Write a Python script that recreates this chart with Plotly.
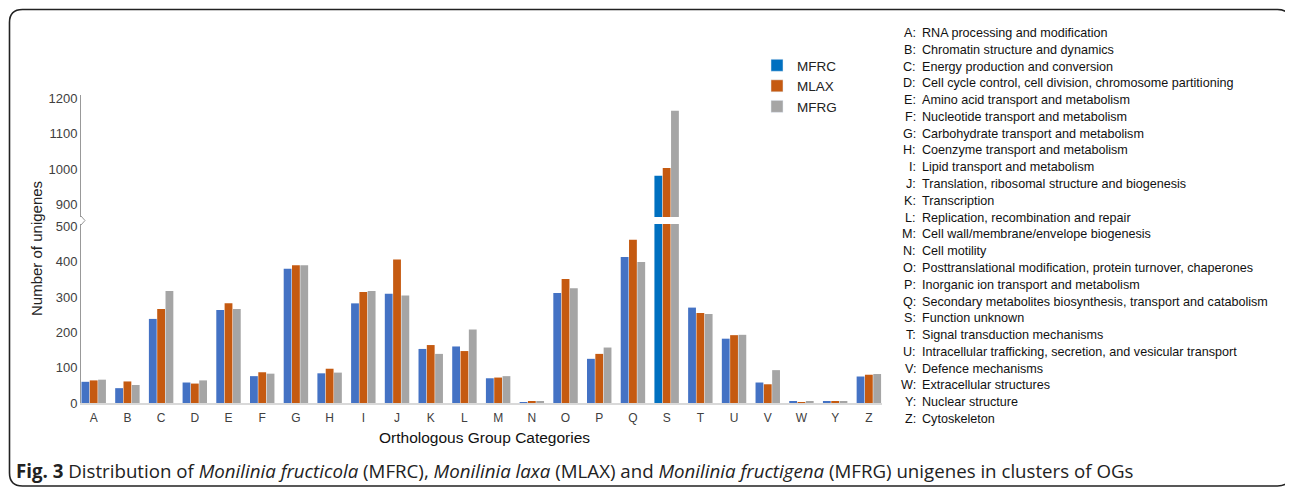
import plotly.graph_objects as go

# ---------------- data ----------------
categories = ["A", "B", "C", "D", "E", "F", "G", "H", "I", "J", "K", "L",
              "M", "N", "O", "P", "Q", "S", "T", "U", "V", "W", "Y", "Z"]
mfrc = [60, 42, 238, 58, 263, 76, 380, 84, 282, 309, 153, 160,
        70, 1, 311, 125, 413, 982, 270, 182, 58, 3, 3, 75]
mlax = [64, 61, 266, 55, 282, 87, 390, 97, 314, 406, 164, 147,
        72, 4, 351, 139, 462, 1004, 255, 192, 53, 1, 3, 80]
mfrg = [66, 51, 317, 64, 266, 83, 390, 86, 317, 304, 139, 208,
        76, 4, 325, 157, 399, 1165, 252, 193, 93, 3, 3, 82]
series_names = ["MFRC", "MLAX", "MFRG"]
descriptions = [
    "RNA processing and modification",
    "Chromatin structure and dynamics",
    "Energy production and conversion",
    "Cell cycle control, cell division, chromosome partitioning",
    "Amino acid transport and metabolism",
    "Nucleotide transport and metabolism",
    "Carbohydrate transport and metabolism",
    "Coenzyme transport and metabolism",
    "Lipid transport and metabolism",
    "Translation, ribosomal structure and biogenesis",
    "Transcription",
    "Replication, recombination and repair",
    "Cell wall/membrane/envelope biogenesis",
    "Cell motility",
    "Posttranslational modification, protein turnover, chaperones",
    "Inorganic ion transport and metabolism",
    "Secondary metabolites biosynthesis, transport and catabolism",
    "Function unknown",
    "Signal transduction mechanisms",
    "Intracellular trafficking, secretion, and vesicular transport",
    "Defence mechanisms",
    "Extracellular structures",
    "Nuclear structure",
    "Cytoskeleton",
]
lower_ticks = [0, 100, 200, 300, 400, 500]
upper_ticks = [900, 1000, 1100, 1200]

# ---------------- styling ----------------
# the page body adds an 8px offset; figure is sized to fit the window
OFF = 8
W, H = 1293 - OFF, 492 - OFF
PL, PR, PT, PB = 81, 882, 95, 403          # plot box in window pixels
ML, MT = PL - OFF, PT - OFF
MR, MB = (W + OFF) - PR, (H + OFF) - PB
PW, PH = PR - PL, PB - PT
BLUE, BLUE_S, ORANGE, GRAY = "#4472C4", "#0070C0", "#C55A11", "#A5A5A5"
FONT = "Liberation Sans, Arial, sans-serif"


def px(x):
    return (x - PL) / PW


def py(y):
    return (PB - y) / PH


blue_colors = [BLUE_S if c == "S" else BLUE for c in categories]
series = [(mfrc, blue_colors), (mlax, ORANGE), (mfrg, GRAY)]

fig = go.Figure()
for axis_pair in (("x", "y"), ("x2", "y2")):
    for k, (name, (vals, col)) in enumerate(zip(series_names, series)):
        fig.add_trace(go.Bar(
            x=categories, y=vals, name=name, marker_color=col,
            marker_line_width=0, showlegend=False, offsetgroup=str(k),
            xaxis=axis_pair[0], yaxis=axis_pair[1], hoverinfo="x+y+name",
        ))

# legend-only traces (share offset groups so bar widths are unaffected)
for k, (name, col) in enumerate(zip(series_names, [BLUE_S, ORANGE, GRAY])):
    fig.add_trace(go.Bar(x=[None], y=[None], name=name, marker_color=col,
                         offsetgroup=str(k), showlegend=True,
                         xaxis="x", yaxis="y"))

xrange = [-0.377, 23.39]
lower_dom = [0, py(224)]
upper_dom = [py(217), 1]

fig.update_layout(
    width=W, height=H,
    margin=dict(l=ML, r=MR, t=MT, b=MB, autoexpand=False),
    paper_bgcolor="white", plot_bgcolor="white",
    barmode="group", bargap=0.26, bargroupgap=0.06,
    font=dict(family=FONT, color="#404040"),
    xaxis=dict(range=xrange, domain=[0, 1], anchor="y", showgrid=False,
               showline=True, linecolor="#d9d9d9", linewidth=1.5,
               ticks="", tickfont=dict(size=12, color="#404040"),
               ticklabelstandoff=3, zeroline=False, automargin=False),
    xaxis2=dict(range=xrange, domain=[0, 1], anchor="y2", matches="x",
                showgrid=False, showline=False, showticklabels=False,
                ticks="", zeroline=False),
    yaxis=dict(domain=lower_dom, range=[0, 506.6], tickvals=lower_ticks,
               showgrid=False, zeroline=False, showline=True,
               linecolor="#999999", linewidth=1, ticks="", automargin=False,
               tickfont=dict(size=13, color="#404040")),
    yaxis2=dict(domain=upper_dom, range=[866, 1209.3], tickvals=upper_ticks,
                showgrid=False, zeroline=False, showline=True,
                linecolor="#999999", linewidth=1, ticks="", automargin=False,
                tickfont=dict(size=13, color="#404040")),
    legend=dict(x=px(757), y=py(50), xanchor="left", yanchor="top",
                font=dict(size=13.5, color="#222"), bgcolor="rgba(0,0,0,0)",
                itemwidth=30, tracegroupgap=0),
)

annotations = []
# axis titles
annotations.append(dict(text="Number of unigenes", x=px(36), y=py(249),
                        xref="paper", yref="paper", showarrow=False,
                        xanchor="center", yanchor="middle",
                        textangle=-90, font=dict(size=15, color="#222")))
annotations.append(dict(text="Orthologous Group Categories", x=px(484), y=py(438),
                        xref="paper", yref="paper", showarrow=False,
                        xanchor="center", yanchor="middle",
                        font=dict(size=15.5, color="#111")))
# category description list
y0, dy = 33, (419 - 33) / 23
for i, (c, d) in enumerate(zip(categories, descriptions)):
    yy = py(y0 + i * dy)
    annotations.append(dict(text=c + ":", x=px(917.5), y=yy, xref="paper", yref="paper",
                            xanchor="right", yanchor="middle", showarrow=False,
                            font=dict(size=12.6, color="#111")))
    annotations.append(dict(text=d, x=px(920), y=yy, xref="paper", yref="paper",
                            xanchor="left", yanchor="middle", showarrow=False,
                            font=dict(size=12.6, color="#111")))
# caption
annotations.append(dict(
    text="<b>Fig. 3</b> Distribution of <i>Monilinia fructicola</i> (MFRC), "
         "<i>Monilinia laxa</i> (MLAX) and <i>Monilinia fructigena</i> (MFRG) "
         "unigenes in clusters of OGs",
    x=px(14), y=py(470), xref="paper", yref="paper", xanchor="left",
    yanchor="middle", showarrow=False,
    font=dict(family="Open Sans, sans-serif", size=18.7, color="#222")))
fig.update_layout(annotations=annotations)

# rounded frame and axis break mark
x0, x1, yt, yb, r = px(9.5), px(1290.5), py(9.5), py(486), 13
rx, ry = r / PW, r / PH
frame = (f"M {x0+rx},{yt} L {x1-rx},{yt} Q {x1},{yt} {x1},{yt-ry} "
         f"L {x1},{yb+ry} Q {x1},{yb} {x1-rx},{yb} "
         f"L {x0+rx},{yb} Q {x0},{yb} {x0},{yb+ry} "
         f"L {x0},{yt-ry} Q {x0},{yt} {x0+rx},{yt} Z")
brk = f"M {px(81)},{py(216)} L {px(85)},{py(220.5)} L {px(81)},{py(225)}"
fig.update_layout(shapes=[
    dict(type="path", path=frame, xref="paper", yref="paper",
         line=dict(color="#222", width=1.6)),
    dict(type="path", path=brk, xref="paper", yref="paper",
         line=dict(color="#999999", width=1)),
])

fig.write_html("out.html")
